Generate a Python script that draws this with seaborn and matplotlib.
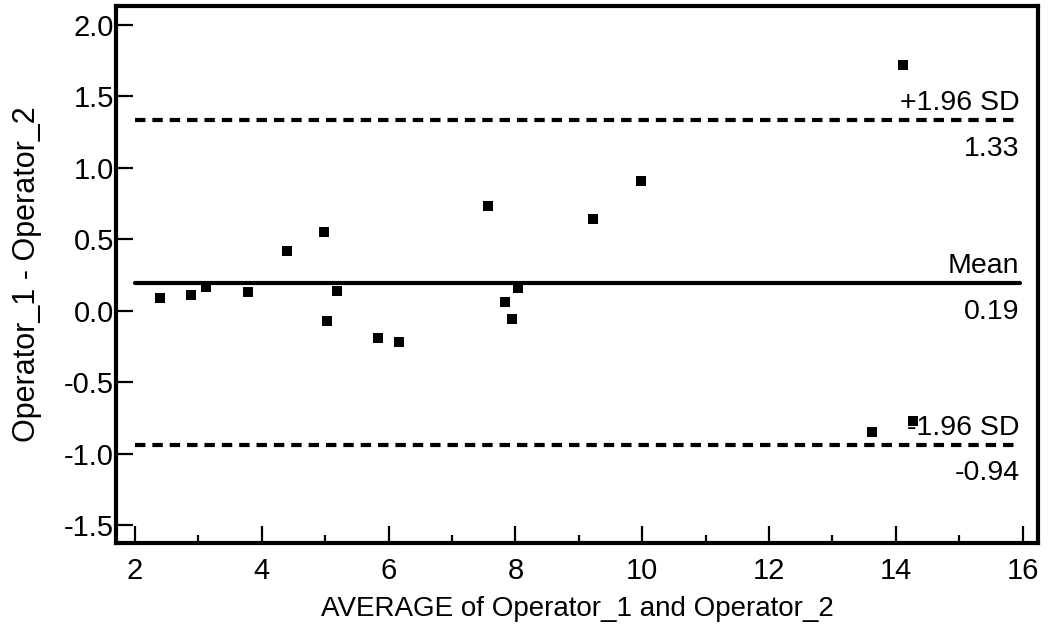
import matplotlib
matplotlib.use("Agg")
from matplotlib import pyplot as plt
import pandas as pd
import seaborn as sns

sns.set_style("ticks")
plt.rcParams['font.family'] = ['Liberation Sans', 'DejaVu Sans']
plt.rcParams['lines.scale_dashes'] = False
plt.rcParams['text.color'] = 'black'
plt.rcParams['axes.labelcolor'] = 'black'
plt.rcParams['xtick.color'] = 'black'
plt.rcParams['ytick.color'] = 'black'

# Bland-Altman data
avg = [2.39, 2.88, 3.12, 3.78, 4.40, 4.98, 5.18, 5.03, 5.83, 6.16,
       7.57, 7.83, 7.94, 8.04, 9.22, 9.98, 14.11, 13.63, 14.27]
diff = [0.09, 0.11, 0.165, 0.13, 0.42, 0.55, 0.14, -0.07, -0.19, -0.22,
        0.73, 0.06, -0.06, 0.16, 0.64, 0.905, 1.72, -0.85, -0.77]
mean_diff = 0.19
upper = 1.33
lower = -0.94
x_ticks = [2, 4, 6, 8, 10, 12, 14, 16]
y_ticks = [-1.5, -1.0, -0.5, 0.0, 0.5, 1.0, 1.5, 2.0]

df = pd.DataFrame({'avg': avg, 'diff': diff})

fig = plt.figure(figsize=(10.5, 6.34), dpi=100)
ax = fig.add_axes([0.1105, 0.1435, 0.878, 0.847])

sns.scatterplot(data=df, x='avg', y='diff', marker='s', color='black',
                s=60, linewidth=0, ax=ax, zorder=3)

x0, x1 = x_ticks[0], x_ticks[-1] - 0.05
ax.plot([x0, x1], [mean_diff, mean_diff], color='black', lw=3)
for v in (upper, lower):
    ax.plot([x0, x1], [v, v], color='black', lw=3, dashes=(7.5, 5))

lab = dict(ha='right', fontsize=20.5, textcoords='offset points')
ax.annotate('Mean', (x1, mean_diff), xytext=(0, 3), va='bottom', **lab)
ax.annotate(f'{mean_diff:.2f}', (x1, mean_diff), xytext=(0, -11), va='top', **lab)
ax.annotate('+1.96 SD', (x1, upper), xytext=(0, 3), va='bottom', **lab)
ax.annotate(f'{upper:.2f}', (x1, upper), xytext=(0, -11), va='top', **lab)
ax.annotate('-1.96 SD', (x1, lower), xytext=(0, 3), va='bottom', **lab)
ax.annotate(f'{lower:.2f}', (x1, lower), xytext=(0, -11), va='top', **lab)

ax.set_xlim(1.7, 16.24)
ax.set_ylim(-1.626, 2.13)
ax.set_xticks(x_ticks)
ax.set_xticks([3, 5, 7, 9, 11, 13, 15], minor=True)
ax.set_yticks(y_ticks)
ax.set_yticklabels([f'{v:.1f}' for v in y_ticks])

ax.tick_params(which='major', direction='in', length=12, width=1.6, labelsize=21, color='black')
ax.tick_params(axis='x', which='major', pad=10)
ax.tick_params(axis='y', which='major', pad=1.5)
ax.tick_params(which='minor', direction='in', length=6, width=1.6, color='black')
for s in ax.spines.values():
    s.set_linewidth(3)
    s.set_color('black')

ax.set_xlabel('AVERAGE of Operator_1 and Operator_2', fontsize=20, labelpad=8)
ax.set_ylabel('Operator_1 - Operator_2', fontsize=22, labelpad=16)

plt.savefig('out.png', dpi=100)
